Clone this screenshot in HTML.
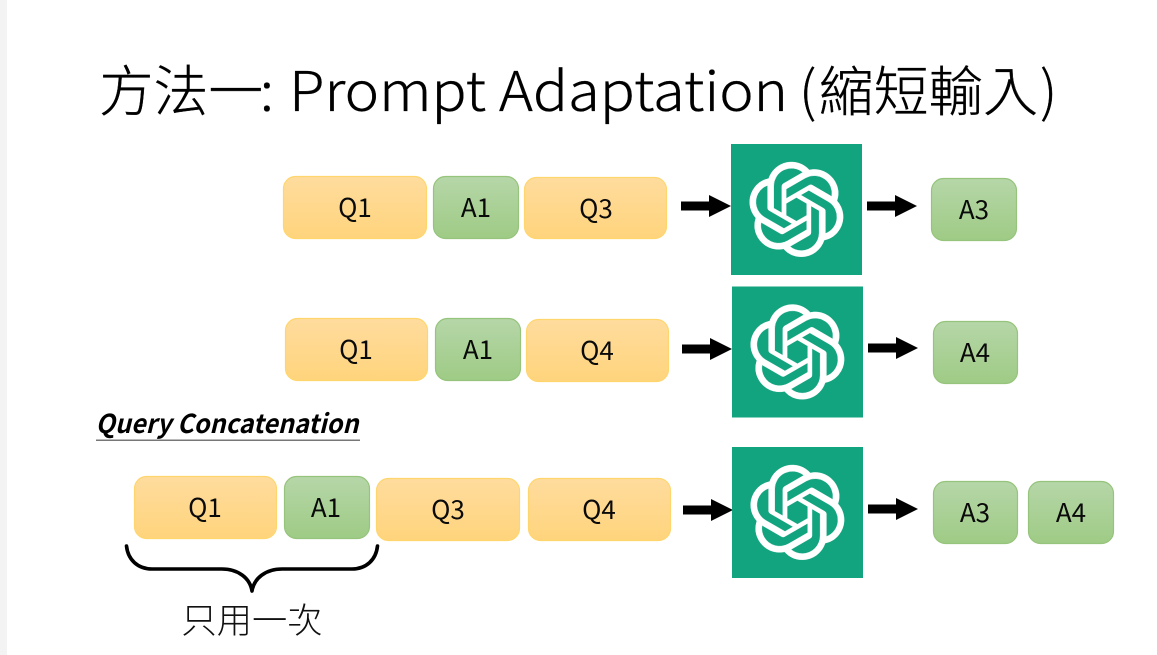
<!DOCTYPE html>
<html><head><meta charset="utf-8"><style>
html,body{margin:0;padding:0;background:#fff;width:1157px;height:655px;overflow:hidden}
svg{display:block}
.l{font-family:"Noto Sans CJK TC","Liberation Sans",sans-serif;font-size:26px;fill:#0a0a0a;text-anchor:middle}
.t{font-family:"Noto Sans CJK TC","Liberation Sans",sans-serif;font-size:55px;font-weight:300;fill:#000;stroke:#000;stroke-width:.35}
.c{font-family:"Noto Sans CJK TC","Liberation Sans",sans-serif;font-weight:300}
.o{fill:url(#o);stroke:#ffd66e;stroke-width:1.2}
.g{fill:url(#g);stroke:#96c47c;stroke-width:1.2}
</style></head><body>
<svg width="1157" height="655" viewBox="0 0 1157 655" xmlns="http://www.w3.org/2000/svg">
<defs>
<linearGradient id="o" x1="0" y1="0" x2="0" y2="1"><stop offset="0" stop-color="#ffdc9e"/><stop offset="1" stop-color="#ffd47c"/></linearGradient>
<linearGradient id="g" x1="0" y1="0" x2="0" y2="1"><stop offset="0" stop-color="#b6d6a8"/><stop offset="1" stop-color="#9ecb85"/></linearGradient>
<g id="a"><path d="M0-4.5H28V-11L50 0 28 11V4.5H0Z" fill="#000"/></g>
<g id="logo">
<rect x="0" y="0" width="131" height="131" fill="#12a37f"/>
<path transform="translate(18 18) scale(3.95)" fill="#fff" stroke="#fff" stroke-width=".1" d="M22.2819 9.8211a5.9847 5.9847 0 0 0-.5157-4.9108 6.0462 6.0462 0 0 0-6.5098-2.9A6.0651 6.0651 0 0 0 4.9807 4.1818a5.9847 5.9847 0 0 0-3.9977 2.9 6.0462 6.0462 0 0 0 .7427 7.0966 5.98 5.98 0 0 0 .511 4.9107 6.051 6.051 0 0 0 6.5146 2.9001A5.9847 5.9847 0 0 0 13.2599 24a6.0557 6.0557 0 0 0 5.7718-4.2058 5.9894 5.9894 0 0 0 3.9977-2.9001 6.0557 6.0557 0 0 0-.7475-7.0729zm-9.022 12.6081a4.4755 4.4755 0 0 1-2.8764-1.0408l.1419-.0804 4.7783-2.7582a.7948.7948 0 0 0 .3927-.6813v-6.7369l2.02 1.1686a.071.071 0 0 1 .038.052v5.5826a4.504 4.504 0 0 1-4.4945 4.4944zm-9.6607-4.1254a4.4708 4.4708 0 0 1-.5346-3.0137l.142.0852 4.783 2.7582a.7712.7712 0 0 0 .7806 0l5.8428-3.3685v2.3324a.0804.0804 0 0 1-.0332.0615L9.74 19.9502a4.4992 4.4992 0 0 1-6.1408-1.6464zM2.3408 7.8956a4.485 4.485 0 0 1 2.3655-1.9728V11.6a.7664.7664 0 0 0 .3879.6765l5.8144 3.3543-2.0201 1.1685a.0757.0757 0 0 1-.071 0l-4.8303-2.7865A4.504 4.504 0 0 1 2.3408 7.872zm16.5963 3.8558L13.1038 8.364 15.1192 7.2a.0757.0757 0 0 1 .071 0l4.8303 2.7913a4.4944 4.4944 0 0 1-.6765 8.1042v-5.6772a.79.79 0 0 0-.407-.667zm2.0107-3.0231l-.142-.0852-4.7735-2.7818a.7759.7759 0 0 0-.7854 0L9.409 9.2297V6.8974a.0662.0662 0 0 1 .0284-.0615l4.8303-2.7866a4.4992 4.4992 0 0 1 6.6802 4.66zM8.3065 12.863l-2.02-1.1638a.0804.0804 0 0 1-.038-.0567V6.0742a4.4992 4.4992 0 0 1 7.3757-3.4537l-.142.0805L8.704 5.459a.7948.7948 0 0 0-.3927.6813zm1.0976-2.3654l2.602-1.4998 2.6069 1.4998v2.9994l-2.5974 1.4997-2.6067-1.4997Z"/>
</g>
</defs>
<rect width="1157" height="655" fill="#fff"/>
<rect width="7" height="655" fill="#f3f3f3"/>

<text class="t" x="99" y="111" textLength="164" lengthAdjust="spacingAndGlyphs">方法一</text>
<text class="t" x="260" y="111">:</text>
<text class="t" x="289" y="111" textLength="499" lengthAdjust="spacingAndGlyphs">Prompt Adaptation</text>
<text class="t" x="799" y="111">(</text>
<text class="t" x="819" y="111" style="font-size:54px" textLength="219" lengthAdjust="spacingAndGlyphs">縮短輸入</text>
<text class="t" x="1040" y="111">)</text>

<!-- Row 1 -->
<rect class="o" x="283.5" y="176.5" width="143" height="62" rx="12"/>
<text class="l" x="355" y="217">Q1</text>
<rect class="g" x="433.5" y="176.5" width="85" height="62" rx="12"/>
<text class="l" x="476" y="217">A1</text>
<rect class="o" x="524.5" y="177.5" width="142" height="61" rx="12"/>
<text class="l" x="596" y="218">Q3</text>
<use href="#a" x="681" y="206"/>
<use href="#logo" x="731" y="144"/>
<use href="#a" x="867" y="206"/>
<rect class="g" x="931.5" y="178.5" width="85" height="62" rx="12"/>
<text class="l" x="974" y="219">A3</text>

<!-- Row 2 -->
<rect class="o" x="285.5" y="318.5" width="142" height="62" rx="12"/>
<text class="l" x="356" y="359">Q1</text>
<rect class="g" x="435.5" y="318.5" width="85" height="62" rx="12"/>
<text class="l" x="478" y="359">A1</text>
<rect class="o" x="526.5" y="319.5" width="142" height="62" rx="12"/>
<text class="l" x="597" y="360">Q4</text>
<use href="#a" x="682" y="349"/>
<use href="#logo" x="732" y="286.5"/>
<use href="#a" x="868" y="348"/>
<rect class="g" x="933.5" y="321.5" width="84" height="62" rx="12"/>
<text class="l" x="975" y="362">A4</text>

<!-- Query Concatenation -->
<text x="95.5" y="433" font-family="Noto Sans CJK TC, Liberation Sans, sans-serif" font-size="26" font-weight="bold" font-style="italic" fill="#000" textLength="263" lengthAdjust="spacingAndGlyphs">Query Concatenation</text>
<rect x="96" y="439.5" width="264" height="1.5" fill="#777"/>

<!-- Row 3 -->
<rect class="o" x="134.5" y="476.5" width="142" height="62" rx="12"/>
<text class="l" x="205" y="517">Q1</text>
<rect class="g" x="284.5" y="476.5" width="85" height="62" rx="12"/>
<text class="l" x="326" y="517">A1</text>
<rect class="o" x="376.5" y="478.5" width="143" height="62" rx="12"/>
<text class="l" x="448" y="519">Q3</text>
<rect class="o" x="528.5" y="478.5" width="142" height="62" rx="12"/>
<text class="l" x="599" y="519">Q4</text>
<use href="#a" x="683" y="510"/>
<use href="#logo" x="732" y="447"/>
<use href="#a" x="868" y="509"/>
<rect class="g" x="933.5" y="481.5" width="84" height="62" rx="12"/>
<text class="l" x="975" y="522">A3</text>
<rect class="g" x="1028.5" y="481.5" width="85" height="62" rx="12"/>
<text class="l" x="1071" y="522">A4</text>

<!-- Brace -->
<path d="M126.5 546C128 560 138 569 152 569H222C238 569 250 578 252 591C254 578 266 569 282 569H352C366 569 376 560 377.5 546" fill="none" stroke="#000" stroke-width="3.6" stroke-linecap="round" stroke-linejoin="round"/>
<text class="c" x="181.5" y="633" font-size="35" fill="#111" textLength="141" lengthAdjust="spacingAndGlyphs">只用一次</text>
</svg>
</body></html>
